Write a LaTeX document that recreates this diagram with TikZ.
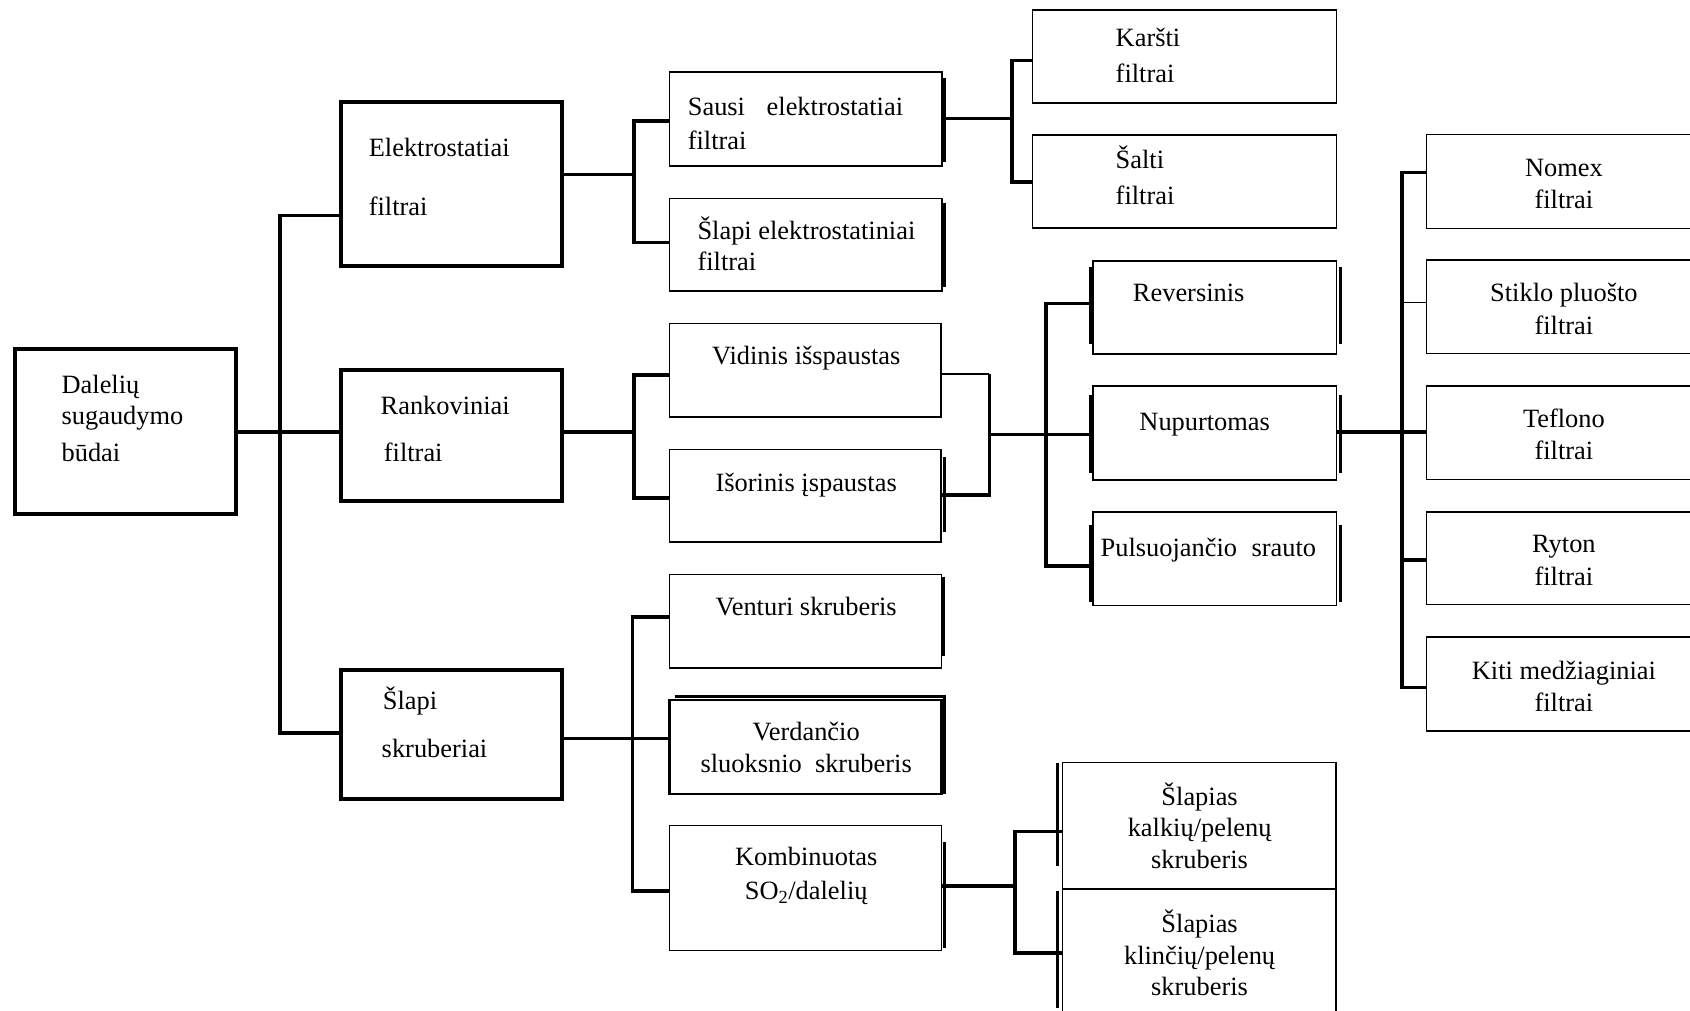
\documentclass[tikz,border=0pt]{standalone}
\usepackage{fontspec}
\setmainfont{Liberation Serif}
\usetikzlibrary{fit}
\begin{document}
\begin{tikzpicture}[x=1.0778pt,y=-1.0778pt,
  bx/.style={draw, line width=1.5pt, inner sep=0pt, outer sep=0pt},
  bigbx/.style={bx, line width=4pt},
  conn/.style={line width=3.6pt},
  thinconn/.style={line width=1.2pt},
  brk/.style={line width=3pt},
  tx/.style={inner sep=0pt, font=\fontsize{26.4}{31}\selectfont, anchor=base},
  txl/.style={tx, anchor=base west}]
\fill[white] (0,0) rectangle (1568,938);
\useasboundingbox (0,0) rectangle (1568,938);

% ---------- boxes ----------
\node[bigbx, fit={(14,324) (219,477)}] (root) {};
\node[bigbx, fit={(316,95) (521,247)}] (elek) {};
\node[bigbx, fit={(316,343) (521,465)}] (rank) {};
\node[bigbx, fit={(316,622) (521,741)}] (skr) {};
\node[bx, fit={(621,67) (874,154)}] (sausi) {};
\node[bx, fit={(621,184) (874,270)}] (slel) {};
\node[bx, fit={(958,9.5) (1240,95.5)}] (karsti) {};
\node[bx, fit={(958,125.3) (1240,211.7)}] (salti) {};
\node[bx, fit={(621,300) (873,387)}] (vid) {};
\node[bx, fit={(621,417) (873,503)}] (isor) {};
\node[bx, fit={(1014,242) (1240,328.5)}] (rev) {};
\node[bx, fit={(1014,358) (1240,445.5)}] (nup) {};
\node[bx, fit={(1014,475) (1240,562)}] (puls) {};
\node[bx, fit={(1323.7,125) (1590,212)}] (nomex) {};
\node[bx, fit={(1323.7,241) (1590,328)}] (stik) {};
\node[bx, fit={(1323.7,358) (1590,445)}] (tefl) {};
\node[bx, fit={(1323.7,475) (1590,561)}] (ryton) {};
\node[bx, fit={(1323.7,591) (1590,678)}] (kiti) {};
\node[bx, fit={(621,533) (873.7,620)}] (vent) {};
\node[bx, line width=2.6pt, fit={(621,649.5) (873.7,736.7)}] (verd) {};
\node[bx, fit={(621,766) (873.7,882)}] (komb) {};
\node[bx, fit={(986,707.6) (1239.6,824.8)}] (kalk) {};
\node[bx, fit={(986,824.8) (1239.6,960)}] (klin) {};

% ---------- side brackets ----------
\draw[brk] (876.5,72) -- (876.5,150);
\draw[brk] (876.5,188) -- (876.5,266);
\draw[brk] (876,424) -- (876,494);
\draw[brk] (875.5,535) -- (875.5,609);
\draw[brk] (626,646) -- (876,646) -- (876,737);
\draw[brk] (876,781) -- (876,880);
\draw[brk] (1012,247.5) -- (1012,319);
\draw[brk] (1244,247.5) -- (1244,319);
\draw[brk] (1012,366.5) -- (1012,439);
\draw[brk] (1244,366.5) -- (1244,439);
\draw[brk] (1012,487) -- (1012,558.5);
\draw[brk] (1244,487) -- (1244,558.5);
\draw[brk] (980.7,707.6) -- (980.7,803.5);
\draw[brk] (980.7,827) -- (980.7,935);

% ---------- junctions ----------
\coordinate (jA1) at (260,200);
\coordinate (jA2) at (260,680);
\coordinate (jB0) at (588,162);
\coordinate (jB1) at (588,112);
\coordinate (jB2) at (588,225);
\coordinate (jC0) at (939,110);
\coordinate (jC1) at (939,56);
\coordinate (jC2) at (939,168.6);
\coordinate (jD0) at (588,401);
\coordinate (jD1) at (588,348);
\coordinate (jD2) at (588,462);
\coordinate (jE0) at (918,403);
\coordinate (jE1) at (918,347);
\coordinate (jE2) at (918,459);
\coordinate (jF1) at (970.5,281.5);
\coordinate (jF2) at (970.5,525);
\coordinate (jG0) at (1300.5,401);
\coordinate (jG1) at (1300.5,160);
\coordinate (jG2) at (1300.5,638);
\coordinate (jG3) at (1300.5,281);
\coordinate (jG4) at (1300.5,519.6);
\coordinate (jH0) at (587,685);
\coordinate (jH1) at (587,572.2);
\coordinate (jH2) at (587,826.7);
\coordinate (jI0) at (941.8,822);
\coordinate (jI1) at (941.8,771.6);
\coordinate (jI2) at (941.8,884);

% ---------- connectors ----------
\draw[conn] (root.east |- jD0) -- (rank.west |- jD0);
\draw[conn] (elek.west |- jA1) -| (jA2) -- (skr.west |- jA2);
\draw[conn] (elek.east |- jB0) -- (jB0);
\draw[conn] (sausi.west |- jB1) -| (jB2) -- (slel.west |- jB2);
\draw[conn] (sausi.east |- jC0) -- (jC0);
\draw[conn] (karsti.west |- jC1) -| (jC2) -- (salti.west |- jC2);
\draw[conn] (rank.east |- jD0) -- (jD0);
\draw[conn] (vid.west |- jD1) -| (jD2) -- (isor.west |- jD2);
\draw[thinconn] (vid.east |- jE1) -- (jE1);
\draw[conn] (jE1) -- (jE2) -- (isor.east |- jE2);
\draw[conn] (jE0) -- (nup.west |- jE0);
\draw[conn] (rev.west |- jF1) -| (jF2) -- (puls.west |- jF2);
\draw[conn] (nup.east |- jG0) -- (tefl.west |- jG0);
\draw[conn] (nomex.west |- jG1) -| (jG2) -- (kiti.west |- jG2);
\draw[thinconn] (jG3) -- (stik.west |- jG3);
\draw[conn] (jG4) -- (ryton.west |- jG4);
\draw[conn] (skr.east |- jH0) -- (verd.west |- jH0);
\draw[conn] (vent.west |- jH1) -| (jH2) -- (komb.west |- jH2);
\draw[conn] (komb.east |- jI0) -- (jI0);
\draw[conn] (kalk.west |- jI1) -| (jI2) -- (klin.west |- jI2);

% ---------- texts ----------
\node[txl] (t01) at (57,365) {Dalelių};
\node[txl] (t02) at (57,394) {sugaudymo};
\node[txl] (t03) at (57,428) {būdai};
\node[txl] (t04) at (342,145) {Elektrostatiai};
\node[txl] (t05) at (342,200) {filtrai};
\node[txl] (t06) at (353,385) {Rankoviniai};
\node[txl] (t07) at (356,428) {filtrai};
\node[txl] (t08) at (355,658) {Šlapi};
\node[txl] (t09) at (354,703) {skruberiai};
\node[txl] (t10) at (638,107) {Sausi\hspace{0.82em}elektrostatiai};
\node[txl] (t11) at (638,139) {filtrai};
\node[txl] (t12) at (647,222) {Šlapi elektrostatiniai};
\node[txl] (t13) at (647,251) {filtrai};
\node[txl] (t14) at (1035,43) {Karšti};
\node[txl] (t15) at (1035,77) {filtrai};
\node[txl] (t16) at (1035,156) {Šalti};
\node[txl] (t17) at (1035,190) {filtrai};
\node[tx] (t18) at (748,338) {Vidinis išspaustas};
\node[tx] (t19) at (748,456) {Išorinis įspaustas};
\node[txl] (t20) at (1051,280) {Reversinis};
\node[txl] (t21) at (1057,399) {Nupurtomas};
\node[txl] (t22) at (1021,516) {Pulsuojančio\hspace{0.55em}srauto};
\node[tx] (t23) at (1451,164) {Nomex};
\node[tx] (t24) at (1451,193) {filtrai};
\node[tx] (t25) at (1451,280) {Stiklo pluošto};
\node[tx] (t26) at (1451,310) {filtrai};
\node[tx] (t27) at (1451,397) {Teflono};
\node[tx] (t28) at (1451,426) {filtrai};
\node[tx] (t29) at (1451,513) {Ryton};
\node[tx] (t30) at (1451,543) {filtrai};
\node[tx] (t31) at (1451,630) {Kiti medžiaginiai};
\node[tx] (t32) at (1451,660) {filtrai};
\node[tx] (t33) at (748,571) {Venturi skruberis};
\node[tx] (t34) at (748,687) {Verdančio};
\node[tx] (t35) at (748,717) {sluoksnio\hspace{0.5em}skruberis};
\node[tx] (t36) at (748,803) {Kombinuotas};
\node[tx] (t37) at (748,835) {SO\textsubscript{2}/dalelių};
\node[tx] (t38) at (1113,747.5) {Šlapias};
\node[tx] (t39) at (1113,776.3) {kalkių/pelenų};
\node[tx] (t40) at (1113,805.6) {skruberis};
\node[tx] (t41) at (1113,865.3) {Šlapias};
\node[tx] (t42) at (1113,894.4) {klinčių/pelenų};
\node[tx] (t43) at (1113,923.8) {skruberis};
\end{tikzpicture}
\end{document}
